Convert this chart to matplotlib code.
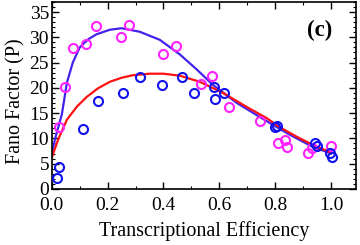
import matplotlib
matplotlib.use("Agg")
import matplotlib.pyplot as plt
from matplotlib.ticker import MultipleLocator

# measured points (magenta)
mag_x = [0.025, 0.047, 0.075, 0.122, 0.158, 0.247, 0.276, 0.398, 0.444, 0.534,
         0.573, 0.634, 0.746, 0.810, 0.835, 0.842, 0.918, 0.932, 1.000]
mag_y = [12.3, 20.2, 27.9, 28.7, 32.2, 30.1, 32.5, 26.7, 28.3, 20.8,
         22.4, 16.2, 13.5, 9.1, 9.7, 8.3, 7.1, 8.1, 8.5]

# measured points (blue)
blu_x = [0.018, 0.025, 0.110, 0.165, 0.255, 0.316, 0.394, 0.466, 0.509, 0.581,
         0.584, 0.617, 0.799, 0.806, 0.943, 0.950, 0.996, 1.003]
blu_y = [2.2, 4.4, 11.9, 17.4, 19.0, 22.2, 20.6, 22.2, 19.0, 20.2,
         17.8, 19.0, 12.3, 12.5, 9.1, 8.5, 7.1, 6.3]

# model curves
blue_cx = [0.0, 0.012, 0.025, 0.036, 0.054, 0.075, 0.10, 0.13, 0.16, 0.208, 0.25,
           0.315, 0.387, 0.459, 0.52, 0.577, 0.663, 0.77, 0.85, 0.932, 1.0]
blue_cy = [7.0, 10.0, 12.6, 14.8, 21.0, 25.0, 28.0, 29.6, 30.6, 31.5, 31.8,
           31.1, 29.5, 26.6, 23.6, 20.6, 17.0, 13.4, 10.8, 8.4, 7.0]
red_cx = [0.0, 0.022, 0.054, 0.09, 0.125, 0.165, 0.208, 0.25, 0.29, 0.351, 0.40,
          0.459, 0.53, 0.613, 0.699, 0.77, 0.817, 0.875, 0.935, 1.0]
red_cy = [6.2, 9.7, 13.7, 16.3, 18.2, 19.9, 21.2, 22.0, 22.5, 22.8, 22.8,
          22.4, 21.2, 19.0, 16.2, 14.0, 12.2, 10.4, 8.7, 7.2]

plt.rcParams['font.family'] = ['Liberation Serif', 'DejaVu Serif']
plt.rcParams['mathtext.fontset'] = 'stix'

fig = plt.figure(figsize=(3.6, 2.45), dpi=100)
ax = fig.add_axes([0.144, 0.229, 0.845, 0.763])

ax.plot(blue_cx, blue_cy, color='#4422EE', lw=1.6, zorder=2)
ax.plot(red_cx, red_cy, color='#FF1111', lw=1.6, zorder=2)
ax.plot(mag_x, mag_y, 'o', ms=6.5, mfc='none', mec='#FF22FF', mew=1.5, zorder=3)
ax.plot(blu_x, blu_y, 'o', ms=6.5, mfc='none', mec='#1111EE', mew=1.5, zorder=3)

ax.set_xlim(0, 1.09)
ax.set_ylim(0, 37)
ax.xaxis.set_minor_locator(MultipleLocator(0.1))
ax.yaxis.set_major_locator(MultipleLocator(5))
ax.yaxis.set_minor_locator(MultipleLocator(1))
ax.set_xticks([0, 0.2, 0.4, 0.6, 0.8, 1.0])
ax.set_xticklabels(['0.0', '0.2', '0.4', '0.6', '0.8', '1.0'])
ax.tick_params(which='both', direction='in', top=True, right=True, labelsize=14)
ax.tick_params(axis='x', pad=6)
ax.tick_params(axis='y', pad=2)
ax.tick_params(which='major', length=5, width=1)
ax.tick_params(which='minor', length=2.5, width=0.8)
for s in ax.spines.values():
    s.set_linewidth(1.2)

ax.set_xlabel('Transcriptional Efficiency', fontsize=14.5)
ax.xaxis.set_label_coords(0.5, -0.17)
ax.set_ylabel('Fano Factor (P)', fontsize=14.5)
ax.yaxis.set_label_coords(-0.085, 0.47)
ax.text(0.88, 0.85, '(c)', transform=ax.transAxes, fontsize=16.5, fontweight='bold',
        ha='center', va='center')

fig.savefig('out.png', dpi=100)
